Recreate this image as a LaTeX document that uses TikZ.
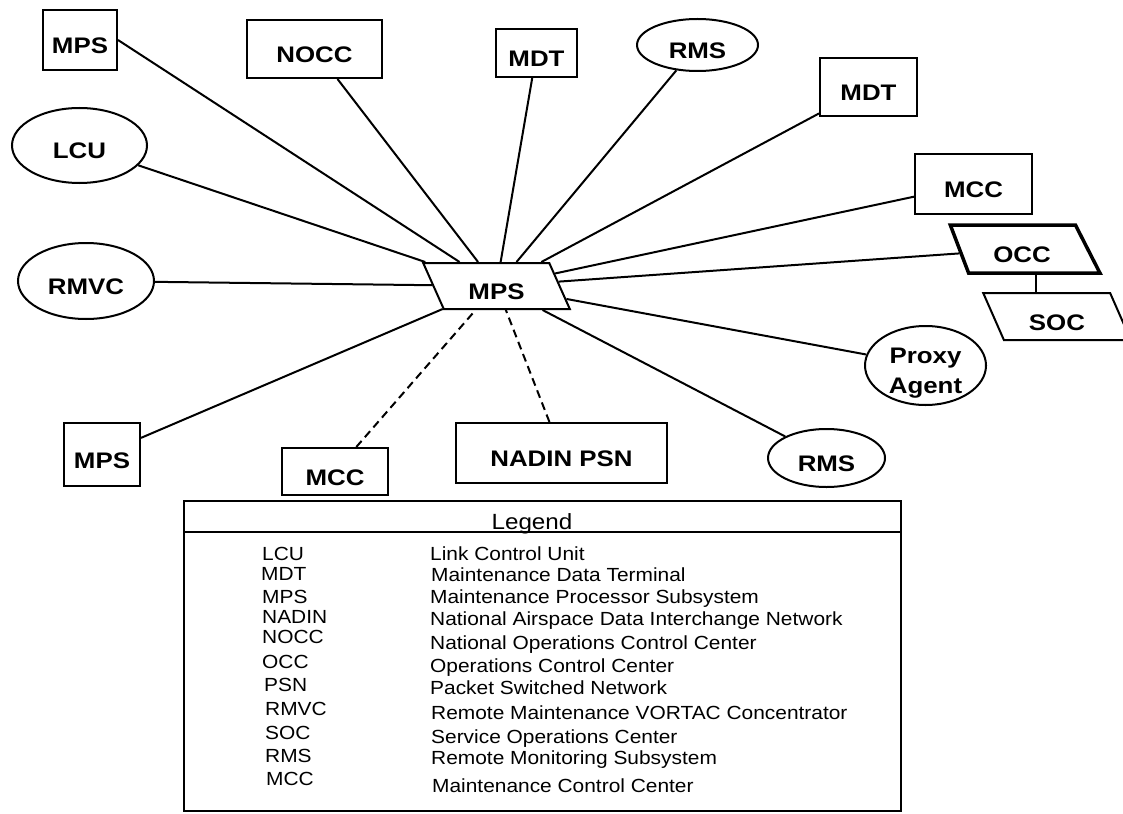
\documentclass[tikz,border=0pt]{standalone}
\usepackage{fontspec}
\setmainfont{Liberation Sans}[FakeStretch=1.1]
\newfontfamily\boxfont{Liberation Sans}[FakeStretch=1.15]
\usetikzlibrary{shapes.geometric}

\begin{document}
\begin{tikzpicture}[x=1pt,y=-1pt,
	lbl/.style={font=\boxfont\fontsize{22.5}{30}\selectfont\bfseries, text height=27pt, text depth=0pt, inner sep=0pt},
	box/.style={lbl, draw, line width=2pt, rectangle},
	oval/.style={lbl, draw, line width=2pt, ellipse},
	slant/.style={lbl, draw, line width=2pt, trapezium, trapezium stretches=true, trapezium left angle=112, trapezium right angle=68},
	link/.style={line width=2pt},
	dlink/.style={line width=2pt, dash pattern=on 8pt off 5pt},
	key/.style={font=\fontsize{19}{22}\selectfont, anchor=base west, inner sep=0pt}]
		\clip (0,0) rectangle (1123,813);
		\fill[white] (0,0) rectangle (1123,813);

		% hub
		\node[slant, minimum width=147, minimum height=46] (mps) at (496.5,286) {MPS};

		% nodes round the hub
		\node[box, minimum width=74, minimum height=60] (mpsA) at (80,40) {MPS};
		\node[box, minimum width=135, minimum height=58] (nocc) at (314.5,49) {NOCC};
		\node[box, minimum width=81, minimum height=48] (mdtA) at (536.5,53) {MDT};
		\node[oval, minimum width=121, minimum height=52] (rmsA) at (697.5,45) {RMS};
		\node[box, minimum width=97, minimum height=58] (mdtB) at (868.5,87) {MDT};
		\node[box, minimum width=117, minimum height=60] (mccA) at (973.5,184) {MCC};
		\node[slant, line width=3.5pt, minimum width=150, minimum height=48, trapezium left angle=110, trapezium right angle=64] (occ) at (1022,249) {OCC};
		\node[slant, minimum width=148, minimum height=47] (soc) at (1057,316.5) {SOC};
		\node[oval, minimum width=135, minimum height=75] (lcu) at (79.5,145.5) {LCU};
		\node[oval, minimum width=136, minimum height=76] (rmvc) at (86,281) {RMVC};
		\node[oval, minimum width=121, minimum height=79, align=center, text height=55pt] (proxy) at (925.5,365.5) {Proxy\\Agent};
		\node[box, minimum width=76, minimum height=63] (mpsB) at (102,454.5) {MPS};
		\node[box, minimum width=106, minimum height=47] (mccB) at (335,471.5) {MCC};
		\node[box, minimum width=211, minimum height=60] (nadin) at (561.5,453) {NADIN PSN};
		\node[oval, minimum width=117, minimum height=58] (rmsB) at (826.5,458) {RMS};

		\draw[link] (mpsA.east) -- (mps);
		\draw[link] (nocc) -- (mps);
		\draw[link] (mdtA) -- (mps);
		\draw[link] (rmsA) -- (mps);
		\draw[link] (mdtB) -- (mps);
		\draw[link] (mccA) -- (mps);
		\draw[link] (occ) -- (mps);
		\draw[link] (lcu) -- (mps);
		\draw[link] (rmvc) -- (mps);
		\draw[link] (proxy) -- (mps);
		\draw[link] (mpsB) -- (mps);
		\draw[link] (rmsB) -- (mps);
		\draw[dlink] (mccB) -- (mps);
		\draw[dlink] (nadin) -- (mps);
		\draw[link] ([xshift=14pt]occ.south) -- ([xshift=14pt]occ.south |- soc.north);

		% legend
		\node[draw, line width=2pt, rectangle, minimum width=717, minimum height=310, anchor=north west, inner sep=0pt] (legend) at (183,500) {};
		\draw[line width=2pt] ([yshift=-32pt]legend.north west) -- ([yshift=-32pt]legend.north east);
		\node[key, anchor=base, font=\fontsize{22}{24}\selectfont] (title) at (532,529) {Legend};

		\node[key] (kLCU) at (262,560) {LCU};
		\node[key] (kMDT) at (261,580) {MDT};
		\node[key] (kMPS) at (262,603) {MPS};
		\node[key] (kNADIN) at (262,623) {NADIN};
		\node[key] (kNOCC) at (262,643) {NOCC};
		\node[key] (kOCC) at (262,668) {OCC};
		\node[key] (kPSN) at (264,691) {PSN};
		\node[key] (kRMVC) at (265,715) {RMVC};
		\node[key] (kSOC) at (265,739) {SOC};
		\node[key] (kRMS) at (265,762) {RMS};
		\node[key] (kMCC) at (266,785) {MCC};

		\node[key] (dLCU) at (430,560) {Link Control Unit};
		\node[key] (dMDT) at (431,581) {Maintenance Data Terminal};
		\node[key] (dMPS) at (430,603) {Maintenance Processor Subsystem};
		\node[key] (dNADIN) at (430,625) {National Airspace Data Interchange Network};
		\node[key] (dNOCC) at (430,649) {National Operations Control Center};
		\node[key] (dOCC) at (430,672) {Operations Control Center};
		\node[key] (dPSN) at (430,694) {Packet Switched Network};
		\node[key] (dRMVC) at (431,719) {Remote Maintenance VORTAC Concentrator};
		\node[key] (dSOC) at (431,743) {Service Operations Center};
		\node[key] (dRMS) at (431,764) {Remote Monitoring Subsystem};
		\node[key] (dMCC) at (432,792) {Maintenance Control Center};
\end{tikzpicture}
\end{document}
